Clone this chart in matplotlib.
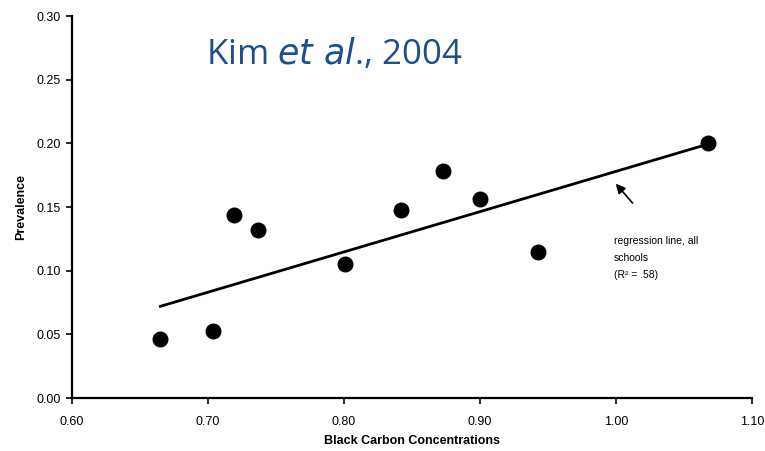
import matplotlib.pyplot as plt

# Data
black_carbon = [0.665, 0.704, 0.719, 0.737, 0.801, 0.842, 0.873, 0.900, 0.943, 1.068]
prevalence = [0.046, 0.053, 0.144, 0.132, 0.105, 0.148, 0.178, 0.156, 0.115, 0.200]

# regression line endpoints
reg_x = [0.665, 1.068]
reg_y = [0.072, 0.1995]

x_ticks = [0.60, 0.70, 0.80, 0.90, 1.00, 1.10]
y_ticks = [0.00, 0.05, 0.10, 0.15, 0.20, 0.25, 0.30]

plt.rcParams['font.family'] = ['Liberation Sans', 'DejaVu Sans']

fig = plt.figure(figsize=(7.65, 4.51), dpi=100)
ax = fig.add_axes([0.094, 0.1175, 0.889, 0.847])

ax.plot(reg_x, reg_y, color="black", linewidth=2)
ax.scatter(black_carbon, prevalence, s=110, color="black", zorder=3)

ax.set_xlim(0.60, 1.10)
ax.set_ylim(0.0, 0.30)
ax.set_xticks(x_ticks)
ax.set_xticklabels([f"{t:.2f}" for t in x_ticks])
ax.set_yticks(y_ticks)
ax.set_yticklabels([f"{t:.2f}" for t in y_ticks])
ax.tick_params(labelsize=9, length=4, width=1.2, direction="out")
ax.tick_params(axis="x", pad=9)
ax.tick_params(axis="y", pad=4)

for side in ["top", "right"]:
    ax.spines[side].set_visible(False)
for side in ["left", "bottom"]:
    ax.spines[side].set_linewidth(1.6)

ax.set_xlabel("Black Carbon Concentrations", fontsize=9, fontweight="bold", labelpad=5)
ax.set_ylabel("Prevalence", fontsize=9, fontweight="bold", labelpad=7)

ax.annotate("", xy=(0.9985, 0.170), xytext=(1.0135, 0.1515),
            arrowprops=dict(arrowstyle="-|>", color="black", lw=1.2, mutation_scale=14))
ax.text(0.9985, 0.1275, "regression line, all\nschools\n(R\u00b2 = .58)",
        fontsize=7.5, va="top", ha="left", linespacing=1.9)

fig.text(0.437, 0.88, "Kim $\\it{et\\ al}$., 2004", fontsize=25, color="#1F4E8C",
         ha="center", va="center", family=["Open Sans", "DejaVu Sans"])

fig.savefig("out.png", dpi=100)
